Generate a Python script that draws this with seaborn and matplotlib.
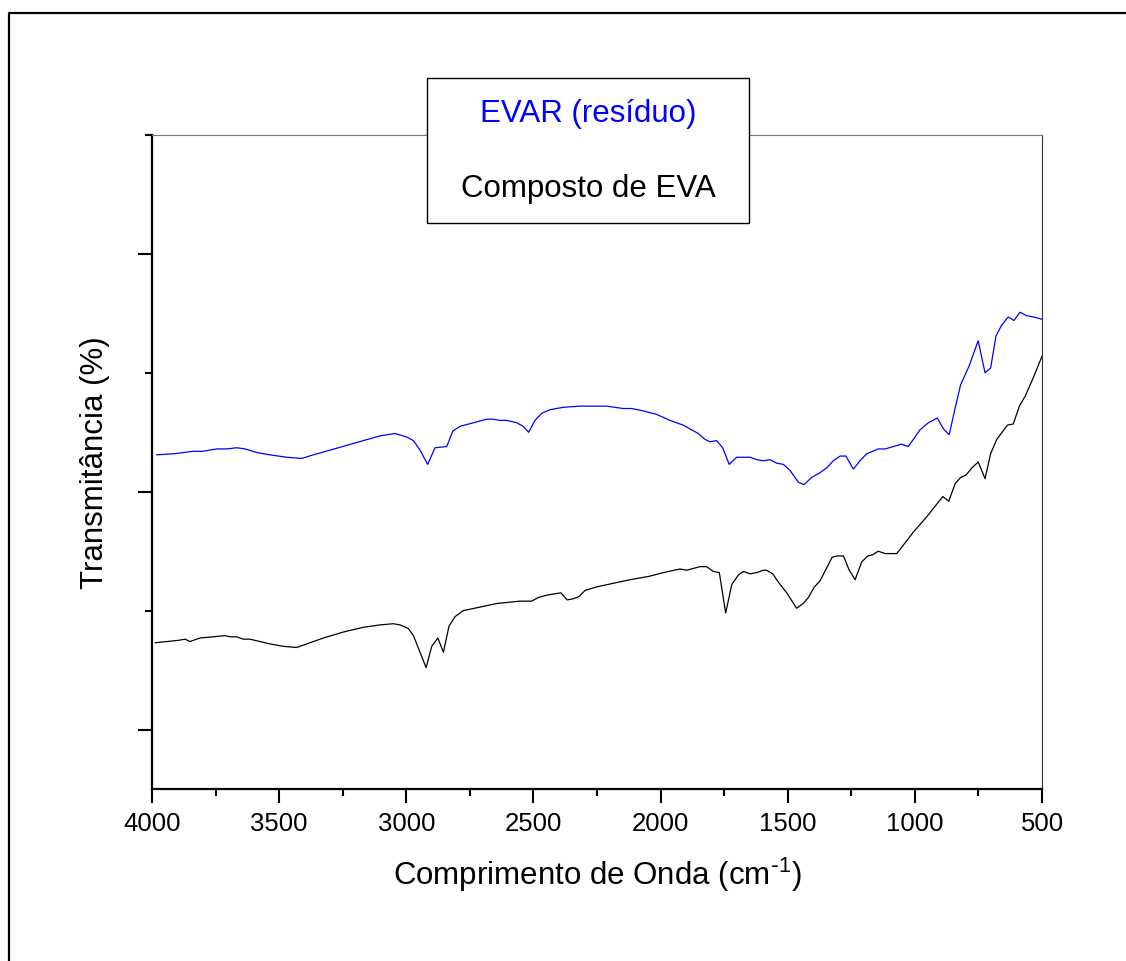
import numpy as np
import pandas as pd
import matplotlib
matplotlib.use("Agg")
import matplotlib.pyplot as plt
from matplotlib.lines import Line2D
from matplotlib.patches import Rectangle
import seaborn as sns

# FTIR spectra (wavenumber in cm-1, transmittance in arbitrary %)
evar_label = "EVAR (resíduo)"
evar_wn = [3982, 3910, 3839, 3799, 3746, 3706, 3667, 3634, 3588, 3536, 3470, 3411, 3366,
           3300, 3234, 3169, 3103, 3044, 2998, 2972, 2946, 2916, 2887, 2841, 2817, 2789,
           2736, 2684, 2658, 2631, 2605, 2566, 2540, 2519, 2494, 2467, 2435, 2383, 2317,
           2251, 2212, 2147, 2114, 2068, 2015, 1963, 1911, 1852, 1825, 1806, 1779, 1756,
           1730, 1701, 1648, 1622, 1596, 1570, 1543, 1517, 1491, 1458, 1436, 1406, 1373,
           1347, 1321, 1294, 1271, 1242, 1216, 1189, 1144, 1117, 1085, 1052, 1026, 1006,
           980, 947, 912, 888, 865, 842, 820, 786, 751, 724, 702, 681, 659, 633, 610, 587,
           560, 534, 515, 500]
evar_t = [23.1, 23.2, 23.4, 23.4, 23.6, 23.6, 23.7, 23.6, 23.3, 23.1, 22.9, 22.8, 23.1,
          23.5, 23.9, 24.3, 24.7, 24.9, 24.6, 24.3, 23.5, 22.3, 23.7, 23.8, 25.1, 25.5,
          25.8, 26.1, 26.1, 26.0, 26.0, 25.8, 25.5, 25.0, 26.0, 26.6, 26.9, 27.1, 27.2,
          27.2, 27.2, 27.0, 27.0, 26.8, 26.5, 26.0, 25.6, 24.9, 24.4, 24.2, 24.3, 23.7,
          22.3, 22.9, 22.9, 22.7, 22.6, 22.7, 22.4, 22.3, 21.8, 20.8, 20.6, 21.2, 21.6,
          22.0, 22.6, 23.0, 23.0, 21.9, 22.6, 23.2, 23.6, 23.6, 23.8, 24.0, 23.8, 24.4,
          25.2, 25.8, 26.2, 25.3, 24.8, 27.0, 29.0, 30.6, 32.7, 30.0, 30.4, 33.1, 34.0,
          34.7, 34.4, 35.1, 34.8, 34.7, 34.6, 34.5]

eva_label = "Composto de EVA"
eva_wn = [3988, 3942, 3897, 3870, 3851, 3811, 3759, 3713, 3693, 3667, 3641, 3615, 3575,
          3536, 3484, 3431, 3392, 3326, 3248, 3169, 3103, 3051, 3025, 2992, 2972, 2946,
          2922, 2900, 2876, 2854, 2832, 2808, 2776, 2710, 2644, 2553, 2507, 2481, 2448,
          2392, 2367, 2343, 2320, 2297, 2251, 2186, 2120, 2042, 1989, 1924, 1897, 1845,
          1819, 1793, 1769, 1744, 1720, 1694, 1675, 1648, 1622, 1596, 1583, 1559, 1537,
          1504, 1465, 1439, 1419, 1395, 1373, 1325, 1305, 1281, 1258, 1235, 1209, 1185,
          1166, 1144, 1117, 1071, 1006, 953, 890, 867, 841, 820, 799, 776, 751, 724, 702,
          678, 636, 613, 589, 567, 534, 500]
eva_t = [7.3, 7.4, 7.5, 7.6, 7.4, 7.7, 7.8, 7.9, 7.8, 7.8, 7.6, 7.6, 7.4, 7.2, 7.0, 6.9,
         7.2, 7.7, 8.2, 8.6, 8.8, 8.9, 8.8, 8.5, 7.9, 6.5, 5.2, 7.0, 7.7, 6.5, 8.7, 9.5,
         10.0, 10.3, 10.6, 10.8, 10.8, 11.1, 11.3, 11.5, 10.9, 11.0, 11.2, 11.7, 12.0,
         12.3, 12.6, 12.9, 13.2, 13.5, 13.4, 13.7, 13.7, 13.3, 13.2, 9.8, 12.2, 13.0, 13.3,
         13.1, 13.2, 13.4, 13.4, 13.1, 12.4, 11.5, 10.2, 10.6, 11.1, 12.0, 12.5, 14.5, 14.6,
         14.6, 13.4, 12.6, 14.1, 14.6, 14.7, 15.0, 14.8, 14.8, 16.6, 17.9, 19.6, 19.2, 20.7,
         21.2, 21.4, 22.0, 22.5, 21.1, 23.2, 24.4, 25.6, 25.7, 27.2, 28.0, 29.6, 31.4]

x_major = [4000, 3500, 3000, 2500, 2000, 1500, 1000, 500]

df = pd.concat([
    pd.DataFrame({"wn": evar_wn, "t": evar_t, "amostra": evar_label}),
    pd.DataFrame({"wn": eva_wn, "t": eva_t, "amostra": eva_label}),
])
colors = {evar_label: "#0000ff", eva_label: "black"}

sns.set_style("ticks")
plt.rcParams["font.family"] = ["Liberation Sans", "DejaVu Sans"]
plt.rcParams["text.color"] = "black"
plt.rcParams["axes.labelcolor"] = "black"
plt.rcParams["xtick.color"] = "black"
plt.rcParams["ytick.color"] = "black"

fig = plt.figure(figsize=(11.26, 9.62), dpi=100)
ax = fig.add_axes([0.1350, 0.1788, 0.7904, 0.6798])

sns.lineplot(data=df, x="wn", y="t", hue="amostra", palette=colors,
             estimator=None, sort=False, linewidth=0.9, legend=False, ax=ax)

ax.set_xlim(4000, 500)
ax.set_ylim(-5, 50)
ax.set_xticks(x_major)
ax.set_xticks(np.arange(3750, 500, -500), minor=True)
ax.set_yticks([0, 20, 40])
ax.set_yticks([10, 30, 50], minor=True)
ax.set_yticklabels([])
ax.tick_params(axis="both", which="major", direction="out", length=10, width=1.5,
               labelsize=18.5, color="black", labelcolor="black")
ax.tick_params(axis="both", which="minor", direction="out", length=5, width=1.5, color="black")
ax.tick_params(axis="x", which="major", pad=6)

for side in ["left", "bottom"]:
    ax.spines[side].set_linewidth(1.6)
    ax.spines[side].set_color("black")
ax.spines["top"].set_linewidth(0.8)
ax.spines["top"].set_color("#777777")
ax.spines["right"].set_linewidth(0.8)
ax.spines["right"].set_color("#333333")

ax.set_xlabel("Comprimento de Onda (cm$\\mathregular{^{\\text{-}1}}$)", fontsize=22.5,
              labelpad=14, color="black")
ax.set_ylabel("Transmitância (%)", fontsize=22.5, labelpad=17, color="black")

# legend box: plain centred text, no line handles
box = Rectangle((0.3792, 0.7672), 0.2860, 0.1507, transform=fig.transFigure,
                facecolor="white", edgecolor="black", linewidth=1.0, zorder=5)
fig.patches.append(box)
fig.text(0.5222, 0.8735, evar_label, color=colors[evar_label], fontsize=22.5,
         ha="center", va="baseline", zorder=6)
fig.text(0.5222, 0.7949, eva_label, color=colors[eva_label], fontsize=22.5,
         ha="center", va="baseline", zorder=6)

# outer frame of the page
fig.lines.append(Line2D([8.5 / 1126, 8.5 / 1126, 1.01], [-0.01, 1 - 13.5 / 962, 1 - 13.5 / 962],
                        transform=fig.transFigure, color="black", linewidth=1.6))

fig.savefig("out.png", dpi=100)
